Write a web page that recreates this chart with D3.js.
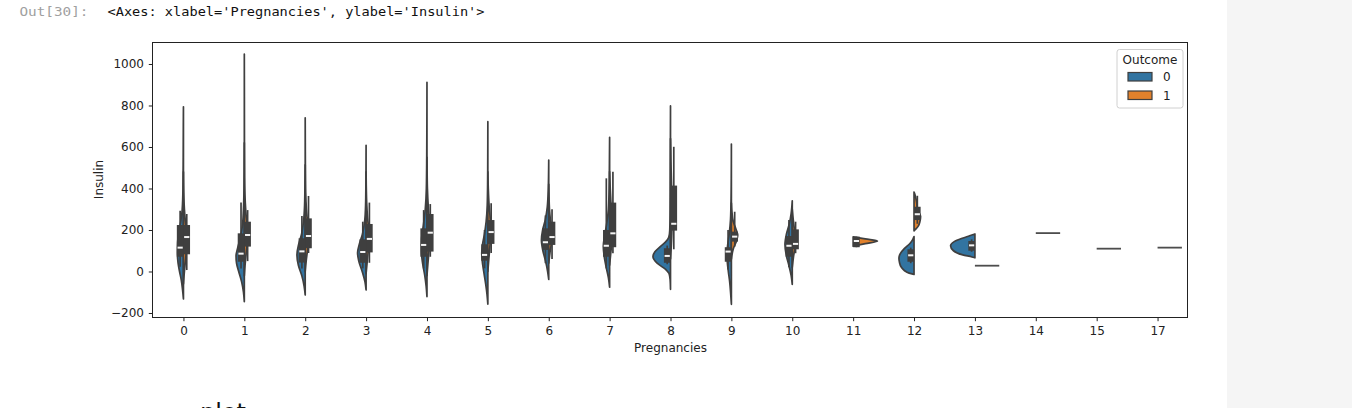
<!DOCTYPE html>
<html><head><meta charset="utf-8">
<script src="https://cdn.jsdelivr.net/npm/d3@7"></script>
<style>html,body{margin:0;padding:0;background:#fff;} svg{display:block;}</style>
</head><body>
<svg id="c" width="1352" height="408"></svg>
<script>
const categories = ["0","1","2","3","4","5","6","7","8","9","10","11","12","13","14","15","17"];
const outcomeLabels = ["0","1"];
const yTicks = [-200,0,200,400,600,800,1000];

// violin half profiles: [insulin value, relative half width]
const density0 = [
 [[-132,0],[-90,0.035],[-40,0.09],[0,0.16],[40,0.22],[90,0.25],[140,0.24],[190,0.19],[240,0.11],[300,0.05],[400,0.02],[550,0.01],[700,0.005],[794,0]],
 [[-145,0],[-100,0.035],[-50,0.11],[0,0.23],[40,0.32],[75,0.34],[110,0.28],[160,0.17],[220,0.08],[300,0.035],[400,0.013],[520,0.005],[620,0]],
 [[-113,0],[-70,0.045],[-20,0.14],[30,0.28],[80,0.34],[130,0.27],[180,0.15],[240,0.07],[320,0.025],[420,0.01],[514,0]],
 [[-89,0],[-50,0.045],[0,0.16],[50,0.3],[90,0.35],[130,0.28],[180,0.15],[240,0.06],[320,0.02],[420,0.008],[608,0]],
 [[-121,0],[-70,0.035],[-20,0.09],[40,0.18],[100,0.23],[160,0.22],[220,0.15],[300,0.07],[400,0.025],[550,0.01],[700,0.004],[912,0]],
 [[-157,0],[-110,0.035],[-60,0.09],[0,0.17],[50,0.23],[90,0.25],[130,0.22],[180,0.14],[240,0.07],[320,0.025],[420,0.01],[550,0.004],[722,0]],
 [[-38,0],[0,0.045],[50,0.13],[100,0.24],[150,0.3],[200,0.25],[250,0.14],[310,0.06],[400,0.018],[537,0]],
 [[-76,0],[-30,0.05],[20,0.14],[70,0.22],[120,0.26],[170,0.21],[230,0.12],[300,0.05],[400,0.02],[520,0.008],[647,0]],
 [[-86,0],[-40,0.015],[-10,0.06],[10,0.2],[40,0.55],[71,0.72],[95,0.64],[120,0.42],[140,0.22],[165,0.07],[200,0.03],[300,0.015],[500,0.008],[798,0]],
 [[-158,0],[-110,0.027],[-50,0.07],[0,0.125],[50,0.17],[90,0.18],[130,0.15],[180,0.09],[250,0.035],[350,0.013],[450,0.005],[614,0]],
 [[-62,0],[-20,0.045],[30,0.14],[80,0.25],[130,0.3],[180,0.24],[230,0.12],[280,0.045],[341,0]],
 null,
 [[-14,0],[-8,0.2],[5,0.4],[20,0.52],[45,0.6],[65,0.62],[85,0.57],[110,0.4],[136,0.16],[155,0.05],[168,0]],
 [[66,0],[70,0.12],[80,0.5],[100,0.88],[124,1],[144,0.85],[160,0.52],[172,0.22],[181,0]],
 null, null, null
];
const density1 = [
 [[-60,0],[0,0.04],[60,0.09],[120,0.12],[180,0.12],[240,0.08],[300,0.04],[380,0.012],[480,0]],
 [[-20,0],[30,0.03],[90,0.08],[150,0.12],[200,0.12],[260,0.08],[330,0.04],[450,0.012],[600,0.006],[846,0.003],[1048,0]],
 [[0,0],[50,0.04],[110,0.1],[170,0.13],[230,0.1],[300,0.05],[380,0.02],[500,0.008],[620,0.004],[741,0]],
 [[-10,0],[40,0.04],[100,0.09],[150,0.12],[200,0.11],[260,0.06],[330,0.025],[420,0.006],[480,0]],
 [[-20,0],[40,0.04],[110,0.09],[180,0.12],[240,0.1],[310,0.055],[400,0.018],[480,0.006],[550,0]],
 [[0,0],[60,0.04],[130,0.09],[190,0.12],[250,0.1],[320,0.05],[400,0.018],[480,0]],
 [[40,0],[90,0.05],[140,0.11],[180,0.12],[230,0.085],[290,0.035],[360,0.012],[420,0]],
 [[30,0],[80,0.04],[140,0.09],[200,0.11],[260,0.09],[330,0.055],[400,0.025],[481,0]],
 [[60,0],[110,0.025],[170,0.05],[230,0.065],[300,0.065],[380,0.05],[450,0.035],[530,0.018],[600,0.008],[640,0]],
 [[60,0],[110,0.08],[150,0.22],[175,0.26],[200,0.2],[240,0.08],[290,0.02],[330,0]],
 [[20,0],[70,0.05],[120,0.11],[160,0.12],[200,0.09],[250,0.04],[300,0]],
 [[122,0],[134,0.5],[147,1],[157,0.5],[167,0]],
 [[196,0],[205,0.08],[220,0.18],[240,0.24],[265,0.27],[285,0.2],[300,0.14],[330,0.11],[350,0.08],[370,0.04],[383,0]],
 null, null, null, null
];

// inner box statistics per category
const q1_0  = [71,47,43,42,71,52,104,71,42,47,71,null,47,100,null,null,null];
const med_0 = [115,86,97,94,128,80,141,124,75,96,124,null,78,126,null,null,null];
const q3_0  = [224,184,160,155,208,131,208,200,112,117,171,null,107,147,null,null,null];
const lo_0  = [23,15,14,15,15,15,40,15,35,10,20,null,40,95,null,null,null];
const hi_0  = [293,332,267,240,296,200,270,449,125,200,248,null,115,155,null,null,null];

const q1_1  = [83,120,112,92,96,133,128,117,197,144,107,117,248,null,null,null,null];
const med_1 = [166,176,171,157,187,190,166,184,230,168,133,147,276,null,null,null,null];
const q3_1  = [224,240,256,229,277,248,240,332,414,192,203,168,312,null,null,null,null];
const lo_1  = [7,50,89,42,71,89,60,88,107,120,88,117,230,null,null,null,null];
const hi_1  = [277,296,364,332,325,329,300,481,601,288,240,168,365,null,null,null,null];

// single observations (drawn as a line)
const single_1 = [null,null,null,null,null,null,null,null,null,null,null,null,null,28,185,110,115];

const svg = d3.select("#c");
svg.append("rect").attr("x",1227).attr("y",0).attr("width",125).attr("height",408).attr("fill","#f5f5f5");

// notebook prompt text
svg.append("text").attr("x",19.5).attr("y",16).attr("font-family","DejaVu Sans Mono").attr("font-size",13)
  .attr("fill","#a0a0a0").attr("textLength",69).attr("lengthAdjust","spacingAndGlyphs").text("Out[30]:");
svg.append("text").attr("x",107.5).attr("y",16).attr("font-family","DejaVu Sans Mono").attr("font-size",13)
  .attr("fill","#111").attr("textLength",377).attr("lengthAdjust","spacingAndGlyphs")
  .text("<Axes: xlabel='Pregnancies', ylabel='Insulin'>");
svg.append("text").attr("x",200).attr("y",421).attr("font-family","DejaVu Sans").attr("font-size",24)
  .attr("fill","#111").text("plot");

const M = {left:153,right:1188,top:42,bottom:317};
const x = d3.scalePoint().domain(categories).range([M.left,M.right]).padding(0.5);
const y = d3.scaleLinear().domain([-219.3,1106]).range([M.bottom,M.top]);
const hw = 0.4*x.step();
const colors = ["#3274a1","#e1812c"];
const lineColor = "#3f3f3f";

const plot = svg.append("g");
const dens = [density0, density1];
categories.forEach((c,i)=>{
  dens.forEach((D,k)=>{
    const prof = D[i]; if(!prof) return;
    const cx = x(c), sgn = k===0?-1:1;
    const area = d3.area().curve(d3.curveMonotoneY)
      .y(d=>y(d[0])).x0(cx).x1(d=>cx+sgn*d[1]*hw);
    plot.append("path").attr("d",area(prof)).attr("fill",colors[k])
      .attr("stroke",lineColor).attr("stroke-width",1.7).attr("stroke-linejoin","round");
  });
});

const stats = [[q1_0,med_0,q3_0,lo_0,hi_0],[q1_1,med_1,q3_1,lo_1,hi_1]];
const bw = 6.6;
categories.forEach((c,i)=>{
  stats.forEach((S,k)=>{
    const [Q1,MD,Q3,LO,HI] = S;
    if(Q1[i]==null) return;
    const cx = x(c), sgn = k===0?-1:1;
    const bx = cx + sgn*bw/2;
    plot.append("line").attr("x1",bx).attr("x2",bx).attr("y1",y(LO[i])).attr("y2",y(HI[i]))
      .attr("stroke",lineColor).attr("stroke-width",1.7);
    plot.append("rect").attr("x",bx-bw/2).attr("width",bw).attr("y",y(Q3[i])).attr("height",Math.max(1,y(Q1[i])-y(Q3[i])))
      .attr("fill",lineColor);
    plot.append("line").attr("x1",bx-2.6).attr("x2",bx+2.6).attr("y1",y(MD[i])).attr("y2",y(MD[i]))
      .attr("stroke","#f4f4f4").attr("stroke-width",2);
  });
  if(single_1[i]!=null){
    const cx = x(c);
    plot.append("line").attr("x1",cx).attr("x2",cx+hw).attr("y1",y(single_1[i])).attr("y2",y(single_1[i]))
      .attr("stroke","#4d4d4d").attr("stroke-width",1.8);
  }
});

// axes
const font = "DejaVu Sans";
const gy = svg.append("g").attr("transform",`translate(${M.left},0)`)
  .call(d3.axisLeft(y).tickValues(yTicks).tickSize(4.2).tickPadding(4.8).tickFormat(d3.format("d")));
gy.select(".domain").remove();
gy.selectAll("text").attr("font-family",font).attr("font-size",12).attr("fill","#222").text(d=>d<0?"\u2212"+Math.abs(d):d);
gy.selectAll("line").attr("stroke","#222").attr("stroke-width",1);

const gx = svg.append("g").attr("transform",`translate(0,${M.bottom})`)
  .call(d3.axisBottom(x).tickSize(4.2).tickPadding(5));
gx.select(".domain").remove();
gx.selectAll("text").attr("font-family",font).attr("font-size",12).attr("fill","#222");
gx.selectAll("line").attr("stroke","#222").attr("stroke-width",1);

svg.append("rect").attr("x",M.left-0.5).attr("y",M.top+0.5).attr("width",M.right-M.left).attr("height",M.bottom-M.top)
  .attr("fill","none").attr("stroke","#222").attr("stroke-width",1);

svg.append("text").attr("x",(M.left+M.right)/2).attr("y",351.5).attr("text-anchor","middle")
  .attr("font-family",font).attr("font-size",12).attr("fill","#222").text("Pregnancies");
svg.append("text").attr("transform",`translate(103.3,${(M.top+M.bottom)/2}) rotate(-90)`).attr("text-anchor","middle")
  .attr("font-family",font).attr("font-size",12).attr("fill","#222").text("Insulin");

// legend
const lg = svg.append("g");
lg.append("rect").attr("x",1117).attr("y",49.5).attr("width",66).attr("height",58.5).attr("rx",2.5)
  .attr("fill","#fff").attr("fill-opacity",0.8).attr("stroke","#d0d0d0").attr("stroke-width",1);
lg.append("text").attr("x",1150).attr("y",63.5).attr("text-anchor","middle").attr("font-family",font)
  .attr("font-size",12).attr("fill","#222").text("Outcome");
outcomeLabels.forEach((o,k)=>{
  lg.append("rect").attr("x",1128).attr("y",72.5+k*18.5).attr("width",24).attr("height",8.5)
    .attr("fill",colors[k]).attr("stroke",lineColor).attr("stroke-width",1.2);
  lg.append("text").attr("x",1163).attr("y",81+k*18.5).attr("font-family",font).attr("font-size",12)
    .attr("fill","#222").text(o);
});
</script>
</body></html>
